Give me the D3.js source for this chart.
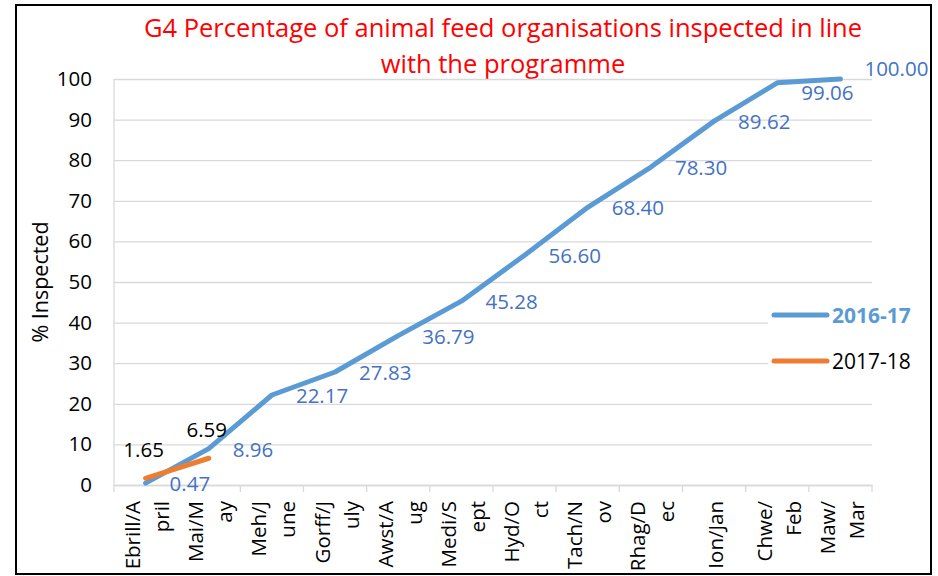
<!DOCTYPE html>
<html>
<head>
<meta charset="utf-8">
<script src="https://cdn.jsdelivr.net/npm/d3@7"></script>
<style>
  html, body { margin: 0; padding: 0; background: #fff; }
  svg { display: block; }
  text { font-family: "Open Sans", "Noto Sans", sans-serif; }
</style>
</head>
<body>
<svg id="chart" width="938" height="576"></svg>
<script>
const categories = ["Ebrill/April", "Mai/May", "Meh/June", "Gorff/July", "Awst/Aug", "Medi/Sept",
  "Hyd/Oct", "Tach/Nov", "Rhag/Dec", "Ion/Jan", "Chwe/Feb", "Maw/Mar"];
const categoryLines = [["Ebrill/A", "pril"], ["Mai/M", "ay"], ["Meh/J", "une"], ["Gorff/J", "uly"],
  ["Awst/A", "ug"], ["Medi/S", "ept"], ["Hyd/O", "ct"], ["Tach/N", "ov"], ["Rhag/D", "ec"],
  ["Ion/Jan"], ["Chwe/", "Feb"], ["Maw/", "Mar"]];
const values2016 = [0.47, 8.96, 22.17, 27.83, 36.79, 45.28, 56.60, 68.40, 78.30, 89.62, 99.06, 100.00];
const values2017 = [1.65, 6.59];
const seriesNames = ["2016-17", "2017-18"];
const yTicks = [0, 10, 20, 30, 40, 50, 60, 70, 80, 90, 100];
const titleLines = ["G4 Percentage of animal feed organisations inspected in line", "with the programme"];
const yAxisTitle = "% Inspected";

const BLUE = "#5B9BD5", ORANGE = "#ED7D31", LABEL_BLUE = "#4472C4", GRID = "#d9d9d9";
const FS = "20.5px";

const svg = d3.select("#chart");
const plot = { left: 114, right: 872, top: 79, bottom: 485 };

svg.append("rect").attr("x", 0).attr("y", 0).attr("width", 938).attr("height", 576).attr("fill", "#fff");
svg.append("rect").attr("x", 16).attr("y", 5).attr("width", 915).attr("height", 569)
  .attr("fill", "none").attr("stroke", "#000").attr("stroke-width", 2);

const x = d3.scaleBand().domain(categories).range([plot.left, plot.right]).padding(0);
const y = d3.scaleLinear().domain([0, 100]).range([plot.bottom, plot.top]);
const cx = c => x(c) + x.bandwidth() / 2;

// Title
svg.append("g").selectAll("text").data(titleLines).join("text")
  .attr("x", 503).attr("y", (d, i) => 27 + i * 36)
  .attr("text-anchor", "middle").attr("dominant-baseline", "central")
  .attr("fill", "#ff0000").style("font-size", "25.5px").text(d => d);

// Y axis with gridlines
const yAxis = svg.append("g").attr("transform", `translate(${plot.left},0)`)
  .call(d3.axisLeft(y).tickValues(yTicks).tickSize(-(plot.right - plot.left)).tickPadding(22).tickFormat(d3.format("d")));
yAxis.select(".domain").remove();
yAxis.selectAll(".tick line").attr("stroke", GRID).attr("stroke-width", 1.3);
yAxis.selectAll(".tick text").attr("fill", "#000").style("font-size", FS).style("font-family", '"Open Sans", sans-serif');
svg.append("line").attr("x1", plot.left).attr("x2", plot.left).attr("y1", plot.top).attr("y2", plot.bottom)
  .attr("stroke", GRID).attr("stroke-width", 1.3);

// Y axis title
svg.append("text").attr("transform", `translate(39,282) rotate(-90)`)
  .attr("text-anchor", "middle").attr("dominant-baseline", "central")
  .style("font-size", "21.5px").attr("fill", "#000").text(yAxisTitle);

// X axis
const xAxis = svg.append("g").attr("transform", `translate(0,${plot.bottom})`)
  .call(d3.axisBottom(x).tickSize(0).tickFormat(""));
xAxis.select(".domain").attr("stroke", GRID).attr("stroke-width", 1.3);
const boundaries = categories.map(c => x(c)).concat([x.range()[1]]);
svg.append("g").selectAll("line").data(boundaries).join("line")
  .attr("x1", d => d).attr("x2", d => d).attr("y1", plot.bottom).attr("y2", plot.bottom + 7)
  .attr("stroke", GRID).attr("stroke-width", 1.3);

const xl = svg.append("g").selectAll("g").data(categories).join("g")
  .attr("transform", c => `translate(${cx(c)},501) rotate(-90)`);
xl.each(function(c, i) {
  const lines = categoryLines[i];
  const n = lines.length;
  d3.select(this).selectAll("text").data(lines).join("text")
    .attr("x", 0).attr("y", (d, j) => (j - (n - 1) / 2) * 29 + 1)
    .attr("text-anchor", "end").attr("dominant-baseline", "central")
    .style("font-size", FS).attr("fill", "#000").text(d => d);
});

// Legend background
svg.append("rect").attr("x", 768).attr("y", 292).attr("width", 150).attr("height", 90).attr("fill", "#fff");

// Lines
const line = d3.line().x((d, i) => cx(categories[i])).y(d => y(d));
svg.append("path").datum(values2016).attr("d", line).attr("fill", "none")
  .attr("stroke", BLUE).attr("stroke-width", 5).attr("stroke-linejoin", "round").attr("stroke-linecap", "round");
svg.append("path").datum(values2017).attr("d", line).attr("fill", "none")
  .attr("stroke", ORANGE).attr("stroke-width", 5).attr("stroke-linejoin", "round").attr("stroke-linecap", "round");

// Data labels 2016-17
const labelNudge = { 10: 9, 11: -11 };
svg.append("g").selectAll("text").data(values2016).join("text")
  .attr("x", (d, i) => cx(categories[i]) + 24)
  .attr("y", (d, i) => y(d) + (labelNudge[i] || 0))
  .attr("dominant-baseline", "central").attr("fill", LABEL_BLUE)
  .style("font-size", FS).text(d => d3.format(".2f")(d));

// Data labels 2017-18
svg.append("g").selectAll("text").data(values2017).join("text")
  .attr("x", (d, i) => cx(categories[i]) - 2)
  .attr("y", d => y(d) - 29)
  .attr("text-anchor", "middle").attr("dominant-baseline", "central").attr("fill", "#000")
  .style("font-size", FS).text(d => d3.format(".2f")(d));

// Legend
const legend = svg.append("g");
const legendColors = [BLUE, ORANGE];
const legendY = [315, 361];
seriesNames.forEach((name, i) => {
  legend.append("line").attr("x1", 774).attr("x2", 827).attr("y1", legendY[i]).attr("y2", legendY[i])
    .attr("stroke", legendColors[i]).attr("stroke-width", 5).attr("stroke-linecap", "round");
  legend.append("text").attr("x", 832).attr("y", legendY[i]).attr("dominant-baseline", "central")
    .style("font-size", "21px").style("font-weight", i === 0 ? "bold" : "normal")
    .attr("fill", i === 0 ? BLUE : "#000").text(name);
});
</script>
</body>
</html>
